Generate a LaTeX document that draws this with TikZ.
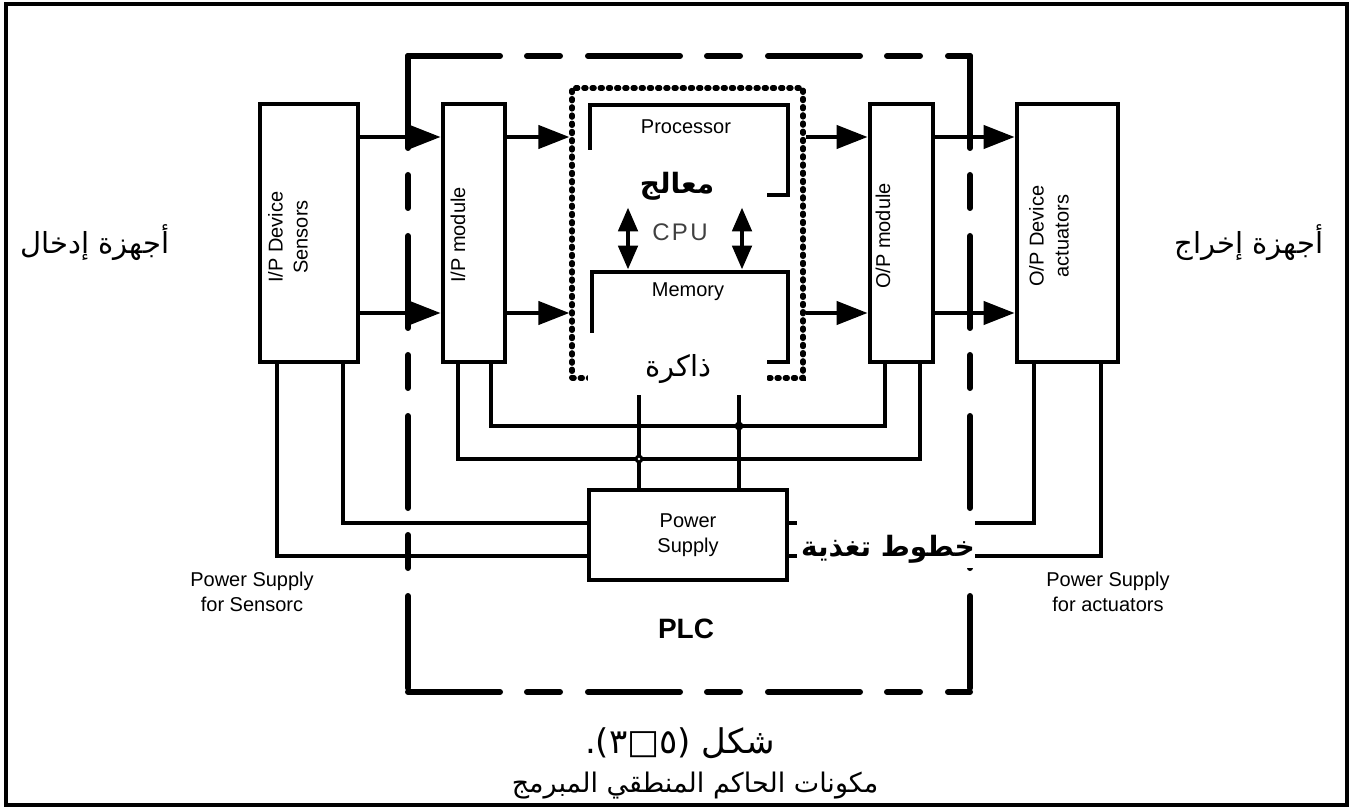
\documentclass[tikz,border=0pt]{standalone}
\usepackage{fontspec}
\setmainfont{Liberation Sans}
\newfontfamily\arabicfont[Script=Arabic]{DejaVu Sans}
\TeXXeTstate=1
\usetikzlibrary{arrows.meta,positioning,calc}

\begin{document}
\begin{tikzpicture}[x=0.5pt,y=-0.5pt,
  box/.style={rectangle,draw,line width=2.4pt,minimum height=129pt,inner sep=0pt},
  wire/.style={line width=2.1pt},
  sig/.style={line width=2.1pt,-{Triangle[length=15.5pt,width=11.5pt]}},
  dbl/.style={line width=2.4pt,{Triangle[length=12pt,width=9.5pt]}-{Triangle[length=12pt,width=9.5pt]}},
  plcline/.style={line width=3pt,line cap=round,dash pattern=on 46pt off 13.5pt on 16.5pt off 14pt},
  lbl/.style={font=\fontsize{10}{12.5}\selectfont,align=center},
  ar/.style={font=\arabicfont\fontsize{14.5}{16}\selectfont},
  arb/.style={font=\arabicfont\bfseries\fontsize{14}{16}\selectfont}]
\useasboundingbox (0,0) rectangle (1353,807);
% page frame
\draw[line width=1.6pt] (6,4) rectangle (1347,805);

% PLC boundary
\coordinate (plcNW) at (408,56);
\coordinate (plcSE) at (970,692);
\draw[plcline] (plcNW) -- (plcNW -| plcSE);
\draw[plcline] (plcNW) -- (plcNW |- plcSE);
\draw[plcline] (plcNW -| plcSE) -- (plcSE);
\draw[plcline] (plcNW |- plcSE) -- (plcSE);
\node[font=\bfseries\fontsize{14}{16}\selectfont] (plc) at (686,629) {PLC};

% field devices and I/O modules
\node[box,minimum width=49pt] (ipdev) at (309,233) {};
\node[box,minimum width=31pt] (ipmod) at (474,233) {};
\node[box,minimum width=31.5pt] (opmod) at (901.5,233) {};
\node[box,minimum width=50.5pt] (opdev) at (1067.5,233) {};
\node[lbl,rotate=90] (ipdevtxt) at (288,237) {I/P Device\\Sensors};
\node[lbl,rotate=90] (ipmodtxt) at (458,235) {I/P module};
\node[lbl,rotate=90] (opmodtxt) at (883,236) {O/P module};
\node[lbl,rotate=90] (opdevtxt) at (1049,236) {O/P Device\\actuators};

% CPU
\node[draw,line width=2.6pt,line cap=round,dash pattern=on 1.1pt off 3pt,
  minimum width=115.5pt,minimum height=145pt,inner sep=0pt] (cpu) at (687.5,233) {};
\node[draw,line width=2.4pt,minimum width=99pt,minimum height=45pt] (proc) at (689,150) {};
\node[draw,line width=2.4pt,minimum width=98pt,minimum height=45pt] (mem) at (690,317) {};
\node[lbl] (proctxt) at (686,127) {Processor};
\node[lbl] (memtxt) at (688,292) {Memory};
\node[font=\addfontfeatures{LetterSpace=10}\fontsize{12}{14}\selectfont,text=black!75] (cputxt) at (680,232) {CPU};
\draw[dbl,shorten <=5pt] ([xshift=-30.5pt]proc.south) -- ([xshift=-31pt]mem.north);
\draw[dbl,shorten <=5pt] ([xshift=26.5pt]proc.south) -- ([xshift=26pt]mem.north);

% signal arrows
\coordinate (rowA) at (0,137);
\coordinate (rowB) at (0,313);
\foreach \a/\b in {ipdev/ipmod,ipmod/cpu,cpu/opmod,opmod/opdev}{
  \draw[sig] (\a.east |- rowA) -- (\b.west |- rowA);
  \draw[sig] (\a.east |- rowB) -- (\b.west |- rowB);
}

% power supply and buses
\node[draw,line width=2.4pt,minimum width=99pt,minimum height=45pt,lbl] (psu) at (688,535) {Power\\Supply};
\coordinate (busA) at (739,426);
\coordinate (busB) at (639,459);
\draw[wire] ([xshift=8.5pt]ipmod.south) |- (busA) -| ([xshift=-8.25pt]opmod.south);
\draw[wire] ([xshift=-8pt]ipmod.south) |- (busB) -| ([xshift=9.25pt]opmod.south);
\draw[wire] (cpu.south -| busA) -- (psu.north -| busA);
\draw[wire] (cpu.south -| busB) -- (psu.north -| busB);
\fill (busA) circle (2.2pt);
\fill (busB) circle (2.2pt);
\fill[white] (busB) circle (0.7pt);
\draw[wire] ([xshift=17pt]ipdev.south) |- ([yshift=6pt]psu.west);
\draw[wire] ([xshift=-16pt]ipdev.south) |- ([yshift=-10.5pt]psu.west);
\draw[wire] ([xshift=-16.75pt]opdev.south) |- ([yshift=6pt]psu.east);
\draw[wire] ([xshift=16.75pt]opdev.south) |- ([yshift=-10.5pt]psu.east);

% arabic labels on white patches
\fill[white] (587,150) rectangle (767,199);
\fill[white] (588,333) rectangle (767,395);
\fill[white] (797,512) rectangle (975,568);
\node[arb] (procar) at (677,186) {\beginR معالج\endR};
\node[ar] (memar) at (678,369) {\beginR ذاكرة\endR};
\node[arb] (psar) at (888,549) {\beginR خطوط تغذية\endR};

\node[lbl] (pssens) at (252,592) {Power Supply\\for Sensorc};
\node[lbl] (psact) at (1108,592) {Power Supply\\for actuators};
\node[ar] (inlbl) at (95,243) {\beginR أجهزة إدخال\endR};
\node[ar] (outlbl) at (1249,243) {\beginR أجهزة إخراج\endR};

% caption
\node[font=\arabicfont\fontsize{17}{19}\selectfont] (figno) at (680,743) {\beginR شكل (٥□٣).\endR};
\node[font=\arabicfont\fontsize{13.5}{16}\selectfont] (figttl) at (695,786) {\beginR مكونات الحاكم المنطقي المبرمج\endR};
\end{tikzpicture}
\end{document}
